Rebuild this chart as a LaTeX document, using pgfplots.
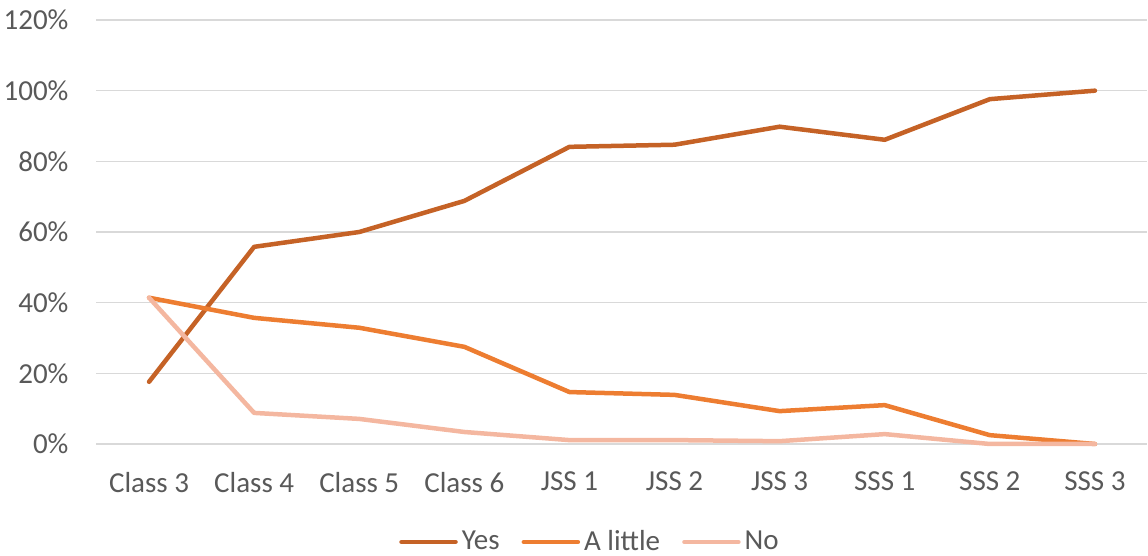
\documentclass[border=0pt]{standalone}
\usepackage{pgfplots}
\pgfplotsset{compat=1.18}
\usepackage{fontspec}
\setmainfont{Carlito}
\definecolor{cyes}{RGB}{197,98,38}
\definecolor{clittle}{RGB}{237,125,49}
\definecolor{cno}{RGB}{244,183,160}
\definecolor{ctxt}{RGB}{89,89,89}
\definecolor{cgrid}{RGB}{217,217,217}
\begin{document}
\begin{tikzpicture}
\useasboundingbox (-48.25pt,-56pt) rectangle (525.75pt,222pt);
\begin{axis}[
  scale only axis, width=525.5pt, height=212pt,
  xmin=-0.5, xmax=9.5, ymin=0, ymax=120,
  xtick={0,...,9},
  xticklabels={Class 3,Class 4,Class 5,Class 6,JSS 1,JSS 2,JSS 3,SSS 1,SSS 2,SSS 3},
  ytick={0,20,...,120},
  yticklabel={\pgfmathprintnumber{\tick}\%},
  /pgf/number format/assume math mode=true,
  ymajorgrids, grid style={cgrid, line width=0.6pt},
  axis line style={draw=none},
  major tick length=0pt,
  tick label style={font=\fontsize{14.5}{16}\selectfont, text=ctxt},
  yticklabel style={xshift=-10.5pt},
  xticklabel style={yshift=-10.5pt},
  legend style={at={(axis description cs:0.4705,0)}, yshift=-49pt, anchor=center,
    draw=none, font=\fontsize{14.5}{16}\selectfont, text=ctxt, inner sep=1pt,
    /tikz/every even column/.append style={column sep=9pt}},
  legend columns=3,
  legend image code/.code={\draw[#1, line cap=round] (0pt,0pt) -- (27pt,0pt);},
  every axis plot/.append style={line width=2.25pt, line join=round, line cap=round},
  clip=false,
]
\draw[cgrid, line width=0.6pt] (axis cs:-0.5,0) -- (axis cs:9.5,0);
\addplot[cyes] coordinates {(0,17.6) (1,55.8) (2,60.0) (3,68.8) (4,84.1) (5,84.7) (6,89.8) (7,86.1) (8,97.6) (9,100)};
\addlegendentry{Yes}
\addplot[clittle] coordinates {(0,41.4) (1,35.7) (2,32.9) (3,27.5) (4,14.7) (5,13.9) (6,9.3) (7,11.0) (8,2.5) (9,0)};
\addlegendentry{A little}
\addplot[cno] coordinates {(0,41.4) (1,8.8) (2,7.1) (3,3.4) (4,1.1) (5,1.1) (6,0.8) (7,2.8) (8,0) (9,0)};
\addlegendentry{No}
\end{axis}
\end{tikzpicture}
\end{document}
